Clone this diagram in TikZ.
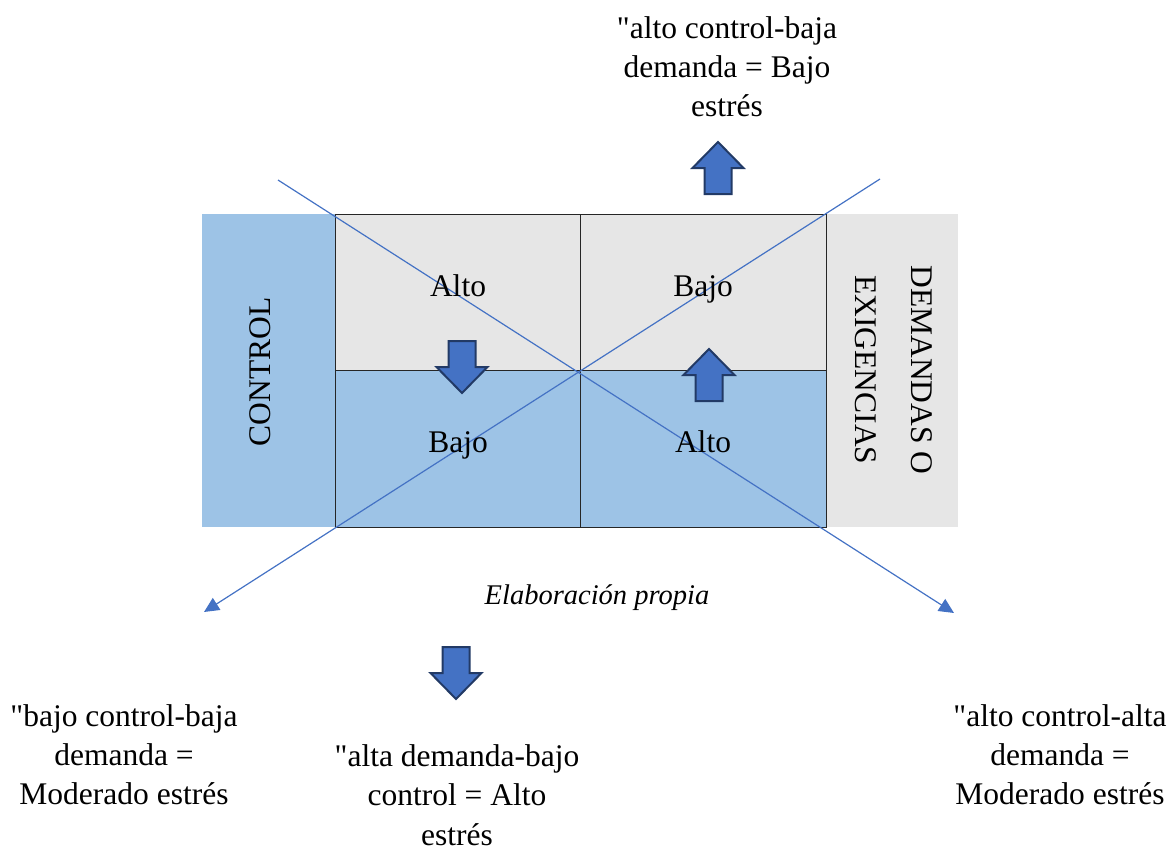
\documentclass[tikz,border=0pt]{standalone}
\usepackage{fontspec}
\setmainfont{Liberation Serif}
\usetikzlibrary{arrows.meta}
\definecolor{lblue}{HTML}{9DC3E6}
\definecolor{lgray}{HTML}{E6E6E6}
\definecolor{mblue}{HTML}{4472C4}
\definecolor{dblue}{HTML}{223A66}
\begin{document}
\begin{tikzpicture}[x=1pt,y=-1pt,
  txt/.style={font=\fontsize{31.5}{39}\selectfont, align=center, inner sep=0pt},
  band/.style={inner sep=0pt, anchor=north west, minimum height=313pt},
  cell/.style={draw=black!85, line width=1.3pt, inner sep=0pt, anchor=north west, minimum width=245pt},
  diag/.style={draw=mblue, line width=1.2pt, -{Triangle[length=15pt,width=14pt]}},
  barrow/.pic={\filldraw[fill=mblue, draw=dblue, line width=2pt, line join=miter]
     (0,0) -- (25.5,26) -- (13.5,26) -- (13.5,52) -- (-13.5,52) -- (-13.5,26) -- (-25.5,26) -- cycle;}
]
\useasboundingbox (0,0) rectangle (1176,849);
% side bands
\node[band, fill=lblue, minimum width=134pt] (ctrlband) at (202,214) {};
\node[band, fill=lgray, minimum width=132pt] (demband) at (826,214) {};
% grid cells
\node[cell, fill=lgray, minimum height=156pt] (tl) at (335,214) {};
\node[cell, fill=lgray, minimum height=156pt, minimum width=246pt] (tr) at (580,214) {};
\node[cell, fill=lblue, minimum height=157pt] (bl) at (335,370) {};
\node[cell, fill=lblue, minimum height=157pt, minimum width=246pt] (br) at (580,370) {};
% diagonals
\coordinate (d1s) at (278,180);
\coordinate (d1e) at (954,613);
\coordinate (d2s) at (880,179);
\coordinate (d2e) at (204,612);
\draw[diag] (d1s) -- (d1e);
\draw[diag] (d2s) -- (d2e);
% block arrows
\pic at (718,142) {barrow};
\pic at (709,349) {barrow};
\pic[rotate=180] at (462,393) {barrow};
\pic[rotate=180] at (456,699) {barrow};
% labels
\node[txt, anchor=base] (lal) at (458,296) {Alto};
\node[txt, anchor=base] (lbr) at (703,296) {Bajo};
\node[txt, anchor=base] (lbl) at (458,452) {Bajo};
\node[txt, anchor=base] (lar) at (703,452) {Alto};
\node[txt, rotate=90] (lctrl) at (260,372) {CONTROL};
\node[txt, rotate=-90, font=\fontsize{31.5}{56}\selectfont] (ldem) at (894,370) {DEMANDAS O\\EXIGENCIAS};
\node[txt, font=\fontsize{28.5}{34}\selectfont\itshape] (lsrc) at (597,598) {Elaboración propia};
\node[txt] (ttop) at (727,67) {\textquotedbl alto control-baja\\demanda = Bajo\\estrés};
\node[txt] (tbl) at (124,755) {\textquotedbl bajo control-baja\\demanda =\\Moderado estrés};
\node[txt, font=\fontsize{31.5}{39.5}\selectfont] (tbm) at (457,795) {\textquotedbl alta demanda-bajo\\control = Alto\\estrés};
\node[txt] (tbr) at (1060,755) {\textquotedbl alto control-alta\\demanda =\\Moderado estrés};
\end{tikzpicture}
\end{document}
